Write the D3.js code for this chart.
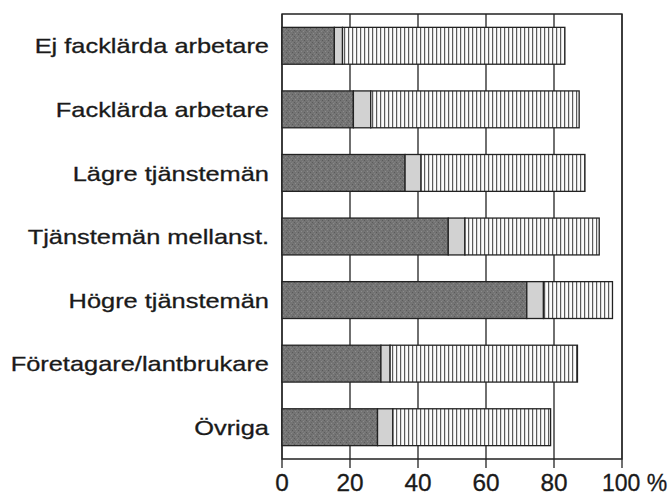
<!DOCTYPE html>
<html><head><meta charset="utf-8">
<script src="https://cdn.jsdelivr.net/npm/d3@7"></script>
<style>
html,body{margin:0;padding:0;background:#fff;}
text{font-family:"Liberation Sans",Arial,Helvetica,sans-serif;fill:#1a1a1a;stroke:#1a1a1a;stroke-width:0.3px;}
</style></head>
<body>
<svg id="chart" width="671" height="498"></svg>
<script>
const categories = ["Ej facklärda arbetare","Facklärda arbetare","Lägre tjänstemän","Tjänstemän mellanst.","Högre tjänstemän","Företagare/lantbrukare","Övriga"];
const seriesDark  = [15.4, 21.0, 36.2, 48.9, 72.0, 29.1, 28.1];
const seriesLight = [2.4, 5.1, 4.7, 4.9, 4.9, 2.7, 4.5];
const seriesHatch = [65.4, 61.3, 48.2, 39.5, 20.3, 55.1, 46.4];
const tickValues = [0, 20, 40, 60, 80, 100];
const tickLabels = ["0", "20", "40", "60", "80", "100 %"];

const svg = d3.select("#chart");
const mLeft = 282, mRight = 622, mTop = 14, mBottom = 459;

const x = d3.scaleLinear().domain([0, 100]).range([mLeft, mRight]);
const y = d3.scaleBand().domain(categories).range([mTop, mBottom]).paddingInner(0.42).paddingOuter(0.21);

// patterns
const defs = svg.append("defs");
const ph = defs.append("pattern").attr("id","hatch").attr("patternUnits","userSpaceOnUse")
  .attr("width",4).attr("height",4);
ph.append("rect").attr("width",4).attr("height",4).attr("fill","#fbfbfb");
ph.append("rect").attr("x",0).attr("width",1.2).attr("height",4).attr("fill","#5a5a5a");
const pd = defs.append("pattern").attr("id","stipple").attr("patternUnits","userSpaceOnUse")
  .attr("width",6).attr("height",6);
pd.append("rect").attr("width",6).attr("height",6).attr("fill","#747474");
[[0,0,"#5c5c5c"],[3,1,"#8a8a8a"],[1,3,"#8c8c8c"],[4,4,"#5a5a5a"],[5,2,"#666"],[2,5,"#828282"],[1,1,"#6a6a6a"],[4,0,"#7e7e7e"]].forEach(d=>{
  pd.append("rect").attr("x",d[0]).attr("y",d[1]).attr("width",1).attr("height",1).attr("fill",d[2]);
});

// grid lines + ticks
svg.append("g").selectAll("line").data(tickValues).join("line")
  .attr("x1",d=>x(d)).attr("x2",d=>x(d)).attr("y1",mTop).attr("y2",mBottom+9)
  .attr("stroke","#222").attr("stroke-width",1.3);

// frame
svg.append("path")
  .attr("d",`M${mLeft},${mTop}H${mRight}V${mBottom}H${mLeft}Z`)
  .attr("fill","none").attr("stroke","#222").attr("stroke-width",1.3);

// stacked bars
const stackData = categories.map((c,i)=>({cat:c, dark:seriesDark[i], light:seriesLight[i], hatch:seriesHatch[i]}));
const stack = d3.stack().keys(["dark","light","hatch"])(stackData);
const fills = {dark:"url(#stipple)", light:"#d2d2d2", hatch:"url(#hatch)"};
const g = svg.append("g");
stack.forEach(layer=>{
  g.selectAll(null).data(layer).join("rect")
    .attr("x",d=>x(d[0])).attr("width",d=>x(d[1])-x(d[0]))
    .attr("y",d=>y(d.data.cat)).attr("height",y.bandwidth())
    .attr("fill",fills[layer.key]).attr("stroke","#222").attr("stroke-width",1.3);
});

// category labels (wide face, emulated with horizontal scale)
svg.append("g").selectAll("text").data(categories).join("text")
  .attr("transform",d=>`translate(269,${y(d)+y.bandwidth()/2}) scale(1.21,1)`)
  .attr("dy","0.36em")
  .attr("text-anchor","end").attr("font-size",21).text(d=>d);

// tick labels
const last = tickValues.length - 1;
svg.append("g").selectAll("text").data(tickValues).join("text")
  .attr("transform",(d,i)=>`translate(${x(d)},491) scale(${i===last?1:1.06},1)`)
  .attr("text-anchor",(d,i)=>i===last?"start":"middle")
  .attr("dx",(d,i)=>i===last?-20:0)
  .attr("font-size",23).text((d,i)=>tickLabels[i]);
</script>
</body></html>
